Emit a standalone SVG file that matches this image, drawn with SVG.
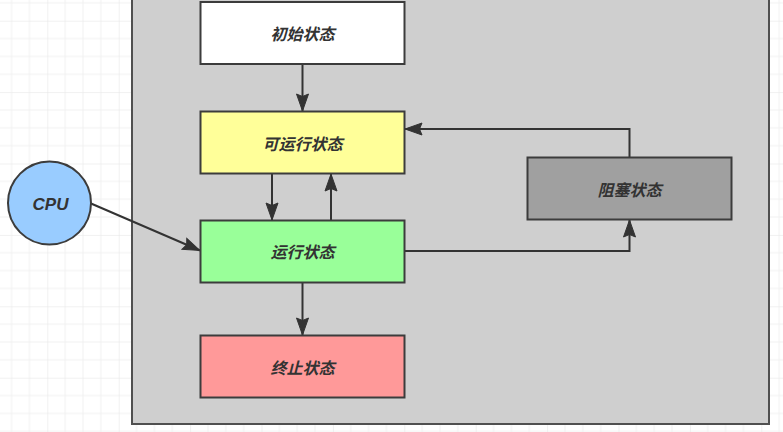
<svg xmlns="http://www.w3.org/2000/svg" width="783" height="432" viewBox="0 0 783 432">
  <style>
    .box { stroke: #3c3c3c; stroke-width: 2; }
    .lbl { font-family: "Liberation Sans", "Noto Sans CJK SC", sans-serif; font-size: 16px; font-weight: bold; font-style: italic; fill: #333333; text-anchor: middle; }
    .edge { fill: none; stroke: #333333; stroke-width: 2; }
  </style>
  <defs>
    <pattern id="grid" patternUnits="userSpaceOnUse" x="47.3" y="20.7" width="71.4" height="71.4">
      <path d="M17.85 0V71.4M35.7 0V71.4M53.55 0V71.4M0 17.85H71.4M0 35.7H71.4M0 53.55H71.4" stroke="#f1f1f1" stroke-width="1" fill="none"/>
      <path d="M0 0V71.4M0 0H71.4" stroke="#e4e4e4" stroke-width="1" fill="none"/>
    </pattern>
    <marker id="arr" markerUnits="userSpaceOnUse" markerWidth="20" markerHeight="14" viewBox="-18 -7 20 14" refX="0" refY="0" orient="auto">
      <path d="M0 0L-17 -6L-14.5 0L-17 6Z" fill="#333333" stroke="#333333" stroke-width="1"/>
    </marker>
  </defs>
  <rect width="783" height="432" fill="#ffffff"/>
  <rect width="783" height="432" fill="url(#grid)"/>

  <g id="container">
    <rect x="132" y="-10" width="637" height="434" fill="#cfcfcf" stroke="#505050" stroke-width="2"/>
  </g>

  <g id="connectors">
    <line class="edge" x1="302.5" y1="65" x2="302.5" y2="111" marker-end="url(#arr)"/>
    <line class="edge" x1="272" y1="174" x2="272" y2="220" marker-end="url(#arr)"/>
    <line class="edge" x1="331" y1="220" x2="331" y2="174" marker-end="url(#arr)"/>
    <line class="edge" x1="91" y1="203.5" x2="200" y2="250.5" marker-end="url(#arr)"/>
    <line class="edge" x1="302.5" y1="283" x2="302.5" y2="335" marker-end="url(#arr)"/>
    <polyline class="edge" points="405,251 629.5,251 629.5,220" marker-end="url(#arr)"/>
    <polyline class="edge" points="629.5,157 629.5,129 405,129" marker-end="url(#arr)"/>
  </g>

  <g id="init">
    <rect class="box" x="200.5" y="2" width="204" height="62" fill="#ffffff"/>
    <text class="lbl" x="302.5" y="40">初始状态</text>
  </g>
  <g id="runnable">
    <rect class="box" x="200.5" y="111.5" width="204" height="62" fill="#ffff99"/>
    <text class="lbl" x="302.5" y="149.5">可运行状态</text>
  </g>
  <g id="running">
    <rect class="box" x="200.5" y="220.5" width="204" height="62" fill="#99ff99"/>
    <text class="lbl" x="302.5" y="257.7">运行状态</text>
  </g>
  <g id="terminated">
    <rect class="box" x="200.5" y="335.5" width="204" height="62" fill="#ff9999"/>
    <text class="lbl" x="302.5" y="374">终止状态</text>
  </g>
  <g id="blocked">
    <rect class="box" x="527.5" y="157.5" width="204" height="62" fill="#a0a0a0"/>
    <text class="lbl" x="629.5" y="195.5">阻塞状态</text>
  </g>
  <g id="cpu">
    <circle class="box" cx="49.5" cy="203" r="41.5" fill="#99ccff"/>
    <text class="lbl" x="50.5" y="210" style="font-size:17px">CPU</text>
  </g>
</svg>
